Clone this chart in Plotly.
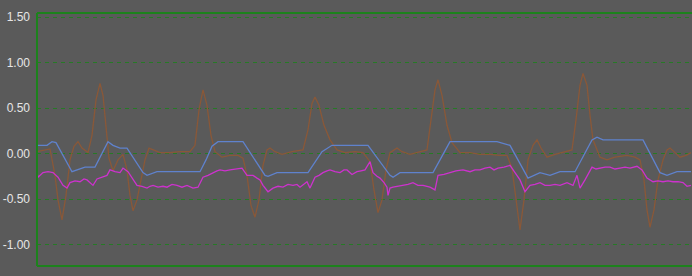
import plotly.graph_objects as go

# ---- data (sample index, value) ----
brown_x = [0, 7, 13, 18, 21, 25, 29, 33, 37, 41, 45, 51, 55, 59, 63, 66, 69, 72, 76, 81, 86, 90, 93, 96, 100, 104, 108, 112, 116, 123, 133, 143, 153, 158, 162, 166, 170, 174, 178, 185, 193, 201, 206, 210, 214, 218, 222, 226, 230, 233, 238, 245, 255, 266, 271, 275, 278, 282, 287, 293, 300, 308, 318, 326, 333, 337, 341, 345, 349, 353, 360, 365, 373, 383, 390, 394, 398, 401, 405, 410, 415, 423, 433, 443, 453, 463, 470, 475, 479, 483, 487, 491, 496, 500, 504, 510, 518, 528, 535, 539, 543, 546, 550, 553, 556, 563, 570, 578, 590, 598, 603, 607, 610, 613, 617, 621, 626, 630, 633, 638, 643, 649, 654]
brown_y = [0.02, 0.04, 0.05, -0.24, -0.51, -0.73, -0.46, -0.07, 0.08, 0.13, 0.06, 0.01, 0.20, 0.59, 0.77, 0.64, 0.26, -0.05, -0.19, -0.07, -0.01, -0.18, -0.46, -0.63, -0.51, -0.29, -0.07, 0.06, 0.04, 0.01, 0.01, 0.02, 0.02, 0.09, 0.48, 0.70, 0.53, 0.20, 0.02, -0.04, -0.02, -0.02, -0.05, -0.24, -0.57, -0.70, -0.51, -0.13, 0.04, 0.06, 0.02, -0.01, 0.02, 0.04, 0.26, 0.55, 0.62, 0.53, 0.31, 0.15, 0.04, 0.01, 0.02, 0.01, -0.09, -0.40, -0.65, -0.51, -0.18, 0.01, 0.06, 0.02, -0.01, 0.02, 0.04, 0.37, 0.70, 0.81, 0.64, 0.31, 0.12, 0.01, 0.01, -0.01, -0.01, -0.02, -0.02, -0.16, -0.51, -0.84, -0.51, -0.07, 0.09, 0.15, 0.06, -0.04, -0.01, 0.02, 0.04, 0.37, 0.75, 0.88, 0.75, 0.42, 0.15, -0.04, -0.07, -0.04, -0.02, -0.04, -0.07, -0.29, -0.62, -0.81, -0.62, -0.29, -0.07, 0.04, 0.06, 0.01, -0.04, -0.02, 0.01]

blue_x = [0, 10, 15, 19, 35, 41, 48, 58, 71, 76, 83, 90, 106, 110, 120, 163, 169, 175, 181, 206, 228, 231, 240, 271, 285, 295, 331, 353, 356, 363, 396, 410, 413, 460, 473, 491, 503, 513, 523, 538, 555, 560, 566, 606, 623, 630, 640, 654]
blue_y = [0.09, 0.09, 0.13, 0.12, -0.20, -0.18, -0.15, -0.15, 0.13, 0.09, 0.06, 0.06, -0.21, -0.24, -0.20, -0.20, -0.07, 0.08, 0.13, 0.13, -0.24, -0.25, -0.21, -0.21, 0.02, 0.09, 0.09, -0.24, -0.26, -0.21, -0.21, 0.07, 0.13, 0.13, 0.09, -0.27, -0.21, -0.24, -0.20, -0.20, 0.15, 0.18, 0.15, 0.15, -0.21, -0.24, -0.20, -0.20]

magenta_x = [0, 1, 6, 11, 16, 21, 26, 30, 33, 38, 43, 47, 50, 53, 56, 60, 63, 67, 70, 73, 78, 83, 86, 91, 96, 100, 105, 110, 113, 116, 121, 126, 130, 135, 140, 145, 150, 156, 161, 166, 171, 176, 180, 183, 188, 193, 199, 205, 210, 216, 220, 223, 226, 231, 236, 241, 246, 251, 256, 260, 263, 267, 270, 273, 278, 282, 286, 290, 293, 298, 303, 307, 310, 315, 320, 324, 328, 333, 336, 340, 343, 347, 350, 351, 353, 356, 361, 366, 371, 376, 381, 386, 393, 398, 401, 407, 413, 419, 426, 433, 438, 443, 448, 453, 457, 461, 467, 473, 478, 483, 488, 493, 498, 503, 508, 513, 518, 523, 530, 536, 540, 543, 548, 555, 559, 563, 568, 573, 578, 583, 588, 593, 600, 605, 610, 616, 621, 626, 631, 636, 641, 646, 650, 654]
magenta_y = [-0.21, -0.26, -0.21, -0.20, -0.21, -0.26, -0.35, -0.38, -0.32, -0.30, -0.31, -0.28, -0.29, -0.32, -0.35, -0.28, -0.27, -0.25, -0.24, -0.18, -0.20, -0.21, -0.16, -0.20, -0.29, -0.35, -0.36, -0.38, -0.36, -0.35, -0.37, -0.36, -0.37, -0.34, -0.35, -0.37, -0.35, -0.38, -0.37, -0.26, -0.24, -0.21, -0.19, -0.18, -0.19, -0.18, -0.17, -0.16, -0.24, -0.24, -0.27, -0.29, -0.35, -0.42, -0.38, -0.36, -0.37, -0.34, -0.35, -0.34, -0.37, -0.34, -0.31, -0.38, -0.26, -0.24, -0.21, -0.19, -0.18, -0.20, -0.21, -0.18, -0.18, -0.23, -0.20, -0.19, -0.18, -0.09, -0.21, -0.25, -0.27, -0.32, -0.37, -0.46, -0.38, -0.37, -0.36, -0.35, -0.34, -0.32, -0.35, -0.35, -0.37, -0.40, -0.24, -0.23, -0.21, -0.19, -0.18, -0.20, -0.18, -0.18, -0.16, -0.15, -0.18, -0.16, -0.15, -0.13, -0.21, -0.29, -0.42, -0.35, -0.34, -0.32, -0.35, -0.35, -0.34, -0.35, -0.32, -0.35, -0.24, -0.38, -0.29, -0.15, -0.17, -0.16, -0.15, -0.15, -0.17, -0.16, -0.15, -0.16, -0.14, -0.18, -0.27, -0.31, -0.30, -0.31, -0.30, -0.31, -0.31, -0.32, -0.36, -0.35]

tick_vals = [-1.0, -0.5, 0.0, 0.5, 1.0, 1.5]
tick_text = ["-1.00", "-0.50", "0.00", "0.50", "1.00", "1.50"]

BG = "#5a5a5a"
GRID = "rgb(38,122,38)"
BORDER = "rgb(28,130,28)"

fig = go.Figure()
fig.add_trace(go.Scatter(x=brown_x, y=brown_y, mode="lines",
                         line=dict(color="rgb(138,88,56)", width=1.3), hoverinfo="skip"))
fig.add_trace(go.Scatter(x=blue_x, y=blue_y, mode="lines",
                         line=dict(color="rgb(95,130,205)", width=1.3), hoverinfo="skip"))
fig.add_trace(go.Scatter(x=magenta_x, y=magenta_y, mode="lines",
                         line=dict(color="rgb(205,50,205)", width=1.3), hoverinfo="skip"))

fig.update_layout(
    width=692, height=276,
    margin=dict(l=37, r=0, t=13, b=10),
    paper_bgcolor=BG, plot_bgcolor=BG,
    showlegend=False,
    xaxis=dict(range=[0, 655], showgrid=False, zeroline=False,
               showticklabels=False, ticks="", fixedrange=True),
    yaxis=dict(range=[-1.236, 1.544], tickvals=tick_vals, ticktext=tick_text,
               showgrid=True, gridcolor=GRID, gridwidth=1, griddash="4px,4px",
               zeroline=False, ticks="", ticklabelstandoff=6,
               tickfont=dict(family="Liberation Sans, Arial, sans-serif", size=12,
                             color="#e6e6e6"), fixedrange=True),
    shapes=[
        dict(type="line", xref="paper", yref="paper", x0=0, x1=0, y0=0, y1=1,
             line=dict(color=BORDER, width=2)),
        dict(type="line", xref="paper", yref="paper", x0=0, x1=1, y0=1, y1=1,
             line=dict(color=BORDER, width=2)),
        dict(type="line", xref="paper", yref="paper", x0=0, x1=1, y0=0, y1=0,
             line=dict(color=BORDER, width=2)),
    ],
)

fig.write_html("out.html", config={"displayModeBar": False})
